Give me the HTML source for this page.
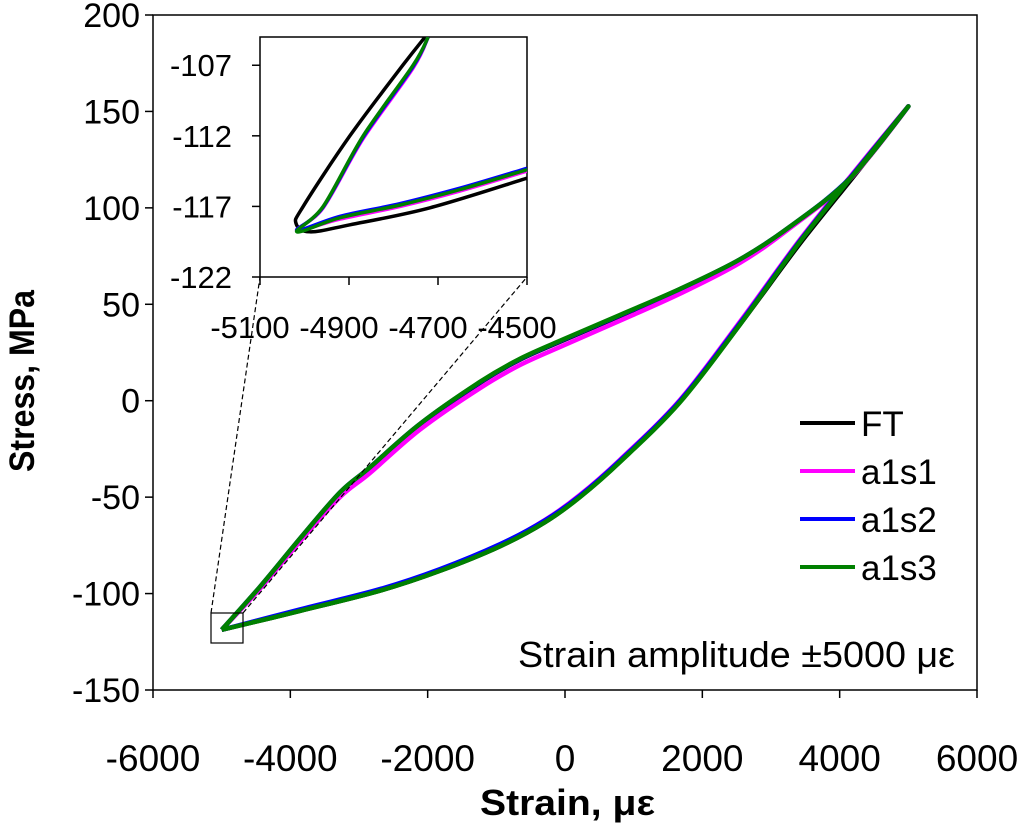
<!DOCTYPE html>
<html><head><meta charset="utf-8"><style>
html,body{margin:0;padding:0;background:#fff;}
svg{display:block;font-family:"Liberation Sans",Arial,sans-serif;}
</style></head><body>
<svg id="chart" width="1024" height="828" viewBox="0 0 1024 828" xmlns="http://www.w3.org/2000/svg">
<g id="main"></g>
<g id="inset"></g>
</svg>
<script>
// ---- data (main plot) ----
const xTicks = [-6000,-4000,-2000,0,2000,4000,6000];
const yTicks = [-150,-100,-50,0,50,100,150,200];
const seriesNames = ["FT","a1s1","a1s2","a1s3"];
const seriesColors = ["#000000","#ff00ff","#0000ff","#008000"];
const loopStrain = [-5000,-4443,-3860,-3277,-2840,-2112,-1238,-655,0,801,1675,2549,3277,4151,5000,4297,3423,2549,1675,801,219,-291,-947,-1821,-2695,-3860,-5000];
const stressFT   = [-118.8,-97,-72,-48,-35,-12.5,9.3,21.3,31.7,44,57.6,73,90,115,152.6,120.5,81.5,39.5,-0.5,-31.6,-49.8,-63,-75.5,-88.2,-98.5,-109,-118.8];
const stressA1S1 = [-118.8,-97.5,-73,-50,-37.5,-15,6.5,18.5,29,41.5,55.5,71.5,89.5,115,152.6,122.5,83.6,41,0.5,-30.6,-48.8,-61.8,-74.7,-87.7,-98,-108.5,-118.8];
const stressA1S2 = [-118.8,-96.5,-71.5,-47.5,-34.5,-12,9.6,21.6,32,44.3,57.9,73.3,90.3,115.5,152.6,122,83,40.3,0,-31,-49.2,-62,-74.4,-87.3,-97.7,-108.2,-118.8];
const stressA1S3 = [-118.8,-96.5,-71.5,-47.5,-34.5,-12,9.8,21.8,32.2,44.5,58,73.3,90.3,115.3,152.6,121.5,82.5,39.5,-0.8,-31.8,-50,-63,-75.5,-88.2,-98.5,-109,-118.8];
// ---- data (inset) ----
const insetXTicks = [-5100,-4900,-4700,-4500];
const insetYTicks = [-122,-117,-112,-107];
const insetFTStrain = [-4500,-4718,-4898,-4988,-5019,-5003,-4898,-4779,-4729];
const insetFTStress = [-115,-117.1,-118.3,-118.8,-118.2,-117,-112,-107,-105];
const insetAStrain  = [-4500,-4650,-4785,-4920,-5017,-4958,-4868,-4756,-4722];
const insetA1S1 = [-114.5,-115.9,-117,-117.9,-118.7,-117.1,-112.2,-107.2,-105];
const insetA1S2 = [-114.3,-115.7,-116.8,-117.7,-118.7,-117.05,-112.1,-107.1,-105];
const insetA1S3 = [-114.4,-115.8,-116.9,-117.8,-118.8,-117,-112,-107,-105];

const NS="http://www.w3.org/2000/svg";
function mk(parent,tag,attrs){const e=document.createElementNS(NS,tag);for(const k in attrs)e.setAttribute(k,attrs[k]);parent.appendChild(e);return e;}
const main=document.getElementById('main'), inset=document.getElementById('inset');

const X0=153,X1=977,Y0=690,Y1=15;
const xs=v=>X0+(v+6000)/12000*(X1-X0);
const ys=v=>Y0-(v+150)/350*(Y0-Y1);
let r=mk(main,'rect',{x:X0,y:Y1,width:X1-X0,height:Y0-Y1,fill:'none',stroke:'#000','stroke-width':1.5});


xTicks.forEach(v=>{
  const l=mk(main,'line',{x1:xs(v),x2:xs(v),y1:Y0,y2:Y0+8,stroke:'#000','stroke-width':1.5});
  
  
  const t=mk(main,'text',{x:xs(v),y:Y0+81,'font-size':37,'text-anchor':'middle'});t.textContent=v;
  
  
});
yTicks.forEach(v=>{
  const l=mk(main,'line',{x1:X0-8,x2:X0,y1:ys(v),y2:ys(v),stroke:'#000','stroke-width':1.5});
  
  
  const t=mk(main,'text',{x:X0-13,y:ys(v)+12,'font-size':34,'text-anchor':'end'});t.textContent=v;
  
  
});
let t=mk(main,'text',{x:480,y:815,'font-size':36,'font-weight':'bold',textLength:175,lengthAdjust:'spacingAndGlyphs'});t.textContent='Strain, με';


t=mk(main,'text',{x:0,y:0,'font-size':35,'font-weight':'bold','text-anchor':'middle',textLength:182,lengthAdjust:'spacingAndGlyphs',transform:'translate(34,381) rotate(-90)'});t.textContent='Stress, MPa';


t=mk(main,'text',{x:518,y:667,'font-size':36,textLength:437,lengthAdjust:'spacingAndGlyphs'});t.textContent='Strain amplitude ±5000 με';



function smooth(arrX,arrY,fx,fy){
  const P=arrX.map((v,i)=>[fx(v),fy(arrY[i])]);
  let d='M'+P[0][0].toFixed(1)+' '+P[0][1].toFixed(1);
  for(let i=0;i<P.length-1;i++){
    const p0=P[Math.max(0,i-1)],p1=P[i],p2=P[i+1],p3=P[Math.min(P.length-1,i+2)];
    const c1=[p1[0]+(p2[0]-p0[0])/6,p1[1]+(p2[1]-p0[1])/6];
    const c2=[p2[0]-(p3[0]-p1[0])/6,p2[1]-(p3[1]-p1[1])/6];
    d+=' C'+c1.map(n=>n.toFixed(1)).join(' ')+' '+c2.map(n=>n.toFixed(1)).join(' ')+' '+p2[0].toFixed(1)+' '+p2[1].toFixed(1);
  }
  return d;
}
const mainY=[stressFT,stressA1S1,stressA1S2,stressA1S3];
mainY.forEach((ys_,i)=>{
  const p=mk(main,'path',{d:smooth(loopStrain,ys_,xs,ys),fill:'none',stroke:seriesColors[i],'stroke-width':4.5,'stroke-linejoin':'round'});
  
  
});

seriesNames.forEach((n,i)=>{
  const y=423+i*48;
  const l=mk(main,'line',{x1:800,x2:855,y1:y,y2:y,stroke:seriesColors[i],'stroke-width':4});
  
  
  const tt=mk(main,'text',{x:861,y:y+13,'font-size':35});tt.textContent=n;
  
  
});

r=mk(main,'rect',{x:211,y:613,width:32,height:30,fill:'none',stroke:'#000','stroke-width':1.2});


let d=mk(main,'line',{x1:211,y1:613,x2:260,y2:277,stroke:'#000','stroke-width':1.2,'stroke-dasharray':'5,3'});


d=mk(main,'line',{x1:243,y1:613,x2:527,y2:277,stroke:'#000','stroke-width':1.2,'stroke-dasharray':'5,3'});



const IX0=260,IX1=527,IY0=277,IY1=37;
const ixs=v=>IX0+(v+5100)/600*(IX1-IX0);
const iys=v=>IY0-(v+122)/17*(IY0-IY1);
r=mk(inset,'rect',{x:IX0,y:IY1,width:IX1-IX0,height:IY0-IY1,fill:'#fff',stroke:'#000','stroke-width':1.5});


insetXTicks.forEach(v=>{
  const l=mk(inset,'line',{x1:ixs(v),x2:ixs(v),y1:IY0,y2:IY0+8,stroke:'#000','stroke-width':1.5});
  
  
  const tt=mk(inset,'text',{x:ixs(v)-10,y:IY0+61,'font-size':31,'text-anchor':'middle'});tt.textContent=v;
  
  
});
insetYTicks.forEach(v=>{
  const l=mk(inset,'line',{x1:IX0-8,x2:IX0,y1:iys(v),y2:iys(v),stroke:'#000','stroke-width':1.5});
  
  
  const tt=mk(inset,'text',{x:IX0-28,y:iys(v)+11,'font-size':31,'text-anchor':'end'});tt.textContent=v;
  
  
});
mk(inset,'clipPath',{id:'ic'}).appendChild(document.createElementNS(NS,'rect'));
const cr=document.querySelector('#ic rect');cr.setAttribute('x',IX0);cr.setAttribute('y',IY1);cr.setAttribute('width',IX1-IX0);cr.setAttribute('height',IY0-IY1);
const insetSets=[[insetFTStrain,insetFTStress],[insetAStrain,insetA1S1],[insetAStrain,insetA1S2],[insetAStrain,insetA1S3]];
insetSets.forEach((s,i)=>{
  const p=mk(inset,'path',{d:smooth(s[0],s[1],ixs,iys),fill:'none',stroke:seriesColors[i],'stroke-width':3.5,'stroke-linejoin':'round','clip-path':'url(#ic)'});
  
  
});
</script>
</body></html>
